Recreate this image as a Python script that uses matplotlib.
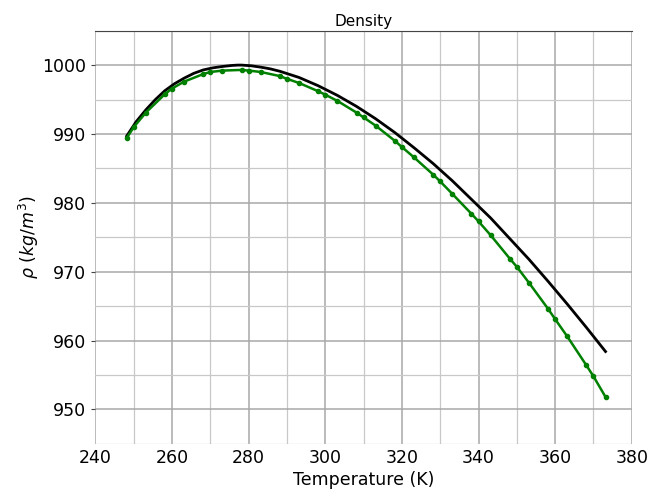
import matplotlib
matplotlib.use("Agg")
import matplotlib.pyplot as plt
from matplotlib.ticker import MultipleLocator

# reference water density (black line)
T_ref = [248.15, 250.65, 253.15, 255.65, 258.15, 260.65, 263.15, 265.65, 268.15,
         270.65, 273.15, 275.65, 277.15, 278.15, 280.65, 283.15, 285.65, 288.15,
         293.15, 298.15, 303.15, 308.15, 313.15, 318.15, 323.15, 328.15, 333.15,
         338.15, 343.15, 348.15, 353.15, 358.15, 363.15, 368.15, 373.15]
rho_ref = [989.7, 991.8, 993.5, 995.0, 996.3, 997.3, 998.1, 998.8, 999.3,
           999.6, 999.8, 999.95, 1000.0, 1000.0, 999.9, 999.7, 999.45, 999.1,
           998.2, 997.0, 995.6, 994.0, 992.2, 990.2, 988.0, 985.7, 983.2,
           980.5, 977.8, 974.8, 971.8, 968.6, 965.3, 961.9, 958.4]

# model density (green line with markers)
T_model = [248.15, 250, 253.15, 258.15, 260, 263.15, 268.15, 270, 273.15, 278.15,
           280, 283.15, 288.15, 290, 293.15, 298.15, 300, 303.15, 308.15, 310,
           313.15, 318.15, 320, 323.15, 328.15, 330, 333.15, 338.15, 340, 343.15,
           348.15, 350, 353.15, 358.15, 360, 363.15, 368.15, 370, 373.15]
rho_model = [989.4, 991.0, 993.1, 995.8, 996.6, 997.6, 998.7, 999.0, 999.2, 999.3,
             999.2, 999.0, 998.4, 998.0, 997.4, 996.2, 995.7, 994.8, 993.1, 992.4,
             991.2, 989.0, 988.1, 986.6, 984.1, 983.1, 981.3, 978.4, 977.3, 975.3,
             971.9, 970.7, 968.4, 964.6, 963.1, 960.6, 956.4, 954.8, 951.8]

fig = plt.figure(figsize=(6.54, 4.93), dpi=100)
ax = fig.add_axes([0.146, 0.0998, 0.82, 0.838])

ax.plot(T_ref, rho_ref, color='black', lw=2, zorder=3)
ax.plot(T_model, rho_model, color='green', lw=1.8, marker='o', ms=3, zorder=4)

ax.set_xlim(240, 380)
ax.set_ylim(945, 1005)
ax.xaxis.set_major_locator(MultipleLocator(20))
ax.xaxis.set_minor_locator(MultipleLocator(10))
ax.yaxis.set_major_locator(MultipleLocator(10))
ax.yaxis.set_minor_locator(MultipleLocator(5))
ax.set_yticks([950, 960, 970, 980, 990, 1000])

ax.grid(which='major', color='#a8a8a8', lw=1.1)
ax.grid(which='minor', color='#c8c8c8', lw=0.9)
ax.set_axisbelow(True)

for s in ['bottom', 'left', 'right']:
    ax.spines[s].set_visible(False)
ax.spines['top'].set_color('#444444')

ax.tick_params(axis='both', which='both', labelsize=12.5, length=0)
ax.tick_params(axis='y', which='major', length=3, color='#444444')

ax.set_title('Density', fontsize=11, pad=3)
ax.set_xlabel('Temperature (K)', fontsize=12.5, labelpad=3)
ax.set_ylabel(r'$\rho\ (kg/m^3)$', fontsize=12.5, labelpad=1)

plt.savefig('out.png')
